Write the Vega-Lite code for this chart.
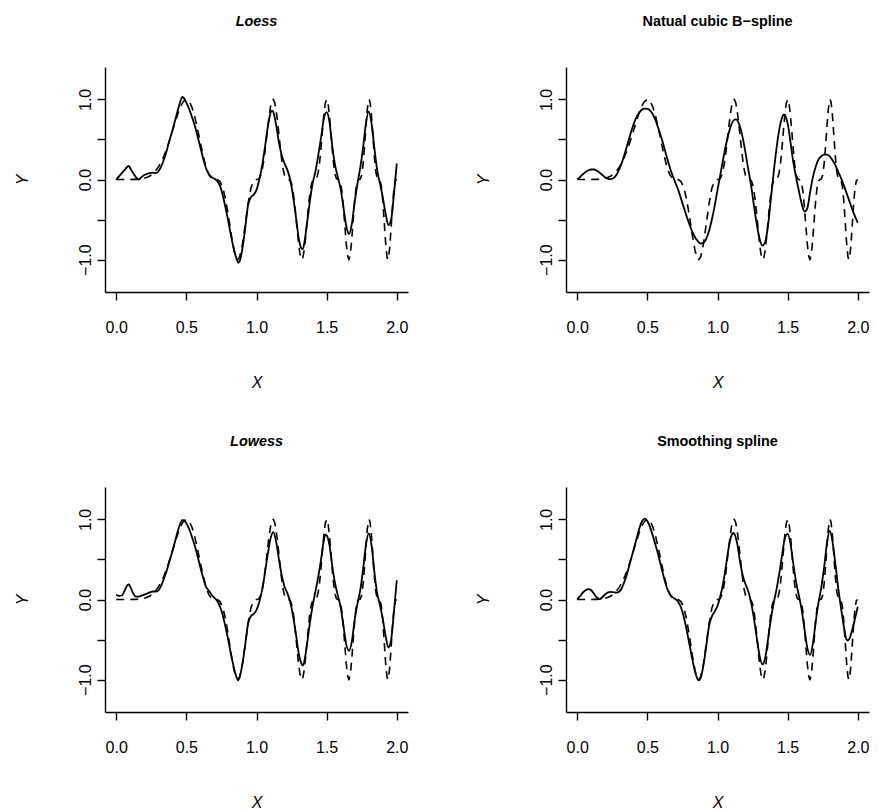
{
"$schema": "https://vega.github.io/schema/vega-lite/v6.json",
"padding": {"left": 14, "top": 13, "right": 5, "bottom": 5},
"bounds": "flush",
"columns": 2,
"spacing": {"row": 195, "column": 158},
"config": {
  "font": "Liberation Sans",
  "view": {"stroke": null},
  "axis": {"grid": false, "domainColor": "#000", "tickColor": "#000", "labelColor": "#000", "titleColor": "#000", "domainWidth": 1.4, "tickWidth": 1.4, "tickSize": 8, "labelFontSize": 16, "titleFontSize": 16, "titleFontWeight": "normal", "titleFontStyle": "italic", "labelFont": "Liberation Sans", "titleFont": "Liberation Sans"},
  "title": {"fontSize": 14.4, "fontWeight": "bold", "color": "#000", "anchor": "middle", "frame": "group", "baseline": "middle", "offset": 38, "font": "Liberation Sans"}
},
"datasets": {
"truth": [
{"x":0,"y":0},{"x":0.02,"y":0},{"x":0.04,"y":0},{"x":0.06,"y":0},{"x":0.08,"y":0},{"x":0.1,"y":0},{"x":0.12,"y":0.001},{"x":0.14,"y":0.002},{"x":0.16,"y":0.004},{"x":0.18,"y":0.008},{"x":0.2,"y":0.015},{"x":0.22,"y":0.027},{"x":0.24,"y":0.044},{"x":0.26,"y":0.07},{"x":0.28,"y":0.106},{"x":0.3,"y":0.154},{"x":0.32,"y":0.216},{"x":0.34,"y":0.293},{"x":0.36,"y":0.384},{"x":0.38,"y":0.489},{"x":0.4,"y":0.602},{"x":0.42,"y":0.717},{"x":0.44,"y":0.825},{"x":0.46,"y":0.916},{"x":0.48,"y":0.977},{"x":0.5,"y":1},{"x":0.52,"y":0.976},{"x":0.54,"y":0.901},{"x":0.56,"y":0.782},{"x":0.58,"y":0.627},{"x":0.6,"y":0.457},{"x":0.62,"y":0.293},{"x":0.64,"y":0.156},{"x":0.66,"y":0.061},{"x":0.68,"y":0.013},{"x":0.7,"y":0},{"x":0.72,"y":-0.002},{"x":0.74,"y":-0.026},{"x":0.76,"y":-0.103},{"x":0.78,"y":-0.25},{"x":0.8,"y":-0.457},{"x":0.82,"y":-0.689},{"x":0.84,"y":-0.888},{"x":0.86,"y":-0.994},{"x":0.866,"y":-1},{"x":0.88,"y":-0.965},{"x":0.9,"y":-0.804},{"x":0.92,"y":-0.556},{"x":0.94,"y":-0.298},{"x":0.96,"y":-0.106},{"x":0.98,"y":-0.015},{"x":1,"y":0},{"x":1.01,"y":0.002},{"x":1.02,"y":0.016},{"x":1.03,"y":0.052},{"x":1.04,"y":0.118},{"x":1.05,"y":0.216},{"x":1.06,"y":0.345},{"x":1.07,"y":0.493},{"x":1.08,"y":0.647},{"x":1.09,"y":0.792},{"x":1.1,"y":0.909},{"x":1.11,"y":0.981},{"x":1.118,"y":1},{"x":1.12,"y":0.999},{"x":1.13,"y":0.958},{"x":1.14,"y":0.862},{"x":1.15,"y":0.724},{"x":1.16,"y":0.562},{"x":1.17,"y":0.395},{"x":1.18,"y":0.245},{"x":1.19,"y":0.127},{"x":1.2,"y":0.05},{"x":1.21,"y":0.011},{"x":1.22,"y":0},{"x":1.23,"y":0},{"x":1.24,"y":-0.013},{"x":1.25,"y":-0.056},{"x":1.26,"y":-0.143},{"x":1.27,"y":-0.276},{"x":1.28,"y":-0.446},{"x":1.29,"y":-0.631},{"x":1.3,"y":-0.804},{"x":1.31,"y":-0.933},{"x":1.32,"y":-0.997},{"x":1.323,"y":-1},{"x":1.33,"y":-0.979},{"x":1.34,"y":-0.883},{"x":1.35,"y":-0.724},{"x":1.36,"y":-0.532},{"x":1.37,"y":-0.341},{"x":1.38,"y":-0.181},{"x":1.39,"y":-0.071},{"x":1.4,"y":-0.015},{"x":1.41,"y":0},{"x":1.42,"y":0.001},{"x":1.43,"y":0.022},{"x":1.44,"y":0.089},{"x":1.45,"y":0.216},{"x":1.46,"y":0.398},{"x":1.47,"y":0.609},{"x":1.48,"y":0.806},{"x":1.49,"y":0.949},{"x":1.5,"y":1},{"x":1.51,"y":0.948},{"x":1.52,"y":0.801},{"x":1.53,"y":0.596},{"x":1.54,"y":0.377},{"x":1.55,"y":0.19},{"x":1.56,"y":0.067},{"x":1.57,"y":0.01},{"x":1.58,"y":0},{"x":1.59,"y":-0.005},{"x":1.6,"y":-0.05},{"x":1.61,"y":-0.164},{"x":1.62,"y":-0.35},{"x":1.63,"y":-0.58},{"x":1.64,"y":-0.801},{"x":1.65,"y":-0.956},{"x":1.658,"y":-1},{"x":1.66,"y":-0.998},{"x":1.67,"y":-0.914},{"x":1.68,"y":-0.725},{"x":1.69,"y":-0.485},{"x":1.7,"y":-0.259},{"x":1.71,"y":-0.097},{"x":1.72,"y":-0.017},{"x":1.73,"y":0},{"x":1.74,"y":0.005},{"x":1.75,"y":0.056},{"x":1.76,"y":0.191},{"x":1.77,"y":0.407},{"x":1.78,"y":0.661},{"x":1.79,"y":0.881},{"x":1.8,"y":0.994},{"x":1.803,"y":1},{"x":1.81,"y":0.961},{"x":1.82,"y":0.789},{"x":1.83,"y":0.537},{"x":1.84,"y":0.285},{"x":1.85,"y":0.102},{"x":1.86,"y":0.016},{"x":1.87,"y":0},{"x":1.88,"y":-0.01},{"x":1.89,"y":-0.084},{"x":1.9,"y":-0.259},{"x":1.91,"y":-0.516},{"x":1.92,"y":-0.782},{"x":1.93,"y":-0.964},{"x":1.936,"y":-1},{"x":1.94,"y":-0.989},{"x":1.95,"y":-0.847},{"x":1.96,"y":-0.59},{"x":1.97,"y":-0.315},{"x":1.98,"y":-0.11},{"x":1.99,"y":-0.015},{"x":2,"y":0}
],
"loess": [
{"x":0,"y":0},{"x":0.02,"y":0.04},{"x":0.04,"y":0.08},{"x":0.06,"y":0.12},{"x":0.08,"y":0.16},{"x":0.09,"y":0.17},{"x":0.1,"y":0.14},{"x":0.12,"y":0.08},{"x":0.14,"y":0.03},{"x":0.16,"y":0},{"x":0.18,"y":0.03},{"x":0.2,"y":0.055},{"x":0.22,"y":0.07},{"x":0.24,"y":0.08},{"x":0.26,"y":0.085},{"x":0.28,"y":0.08},{"x":0.3,"y":0.1},{"x":0.32,"y":0.16},{"x":0.34,"y":0.25},{"x":0.36,"y":0.36},{"x":0.38,"y":0.49},{"x":0.4,"y":0.61},{"x":0.42,"y":0.74},{"x":0.44,"y":0.87},{"x":0.46,"y":0.99},{"x":0.47,"y":1.03},{"x":0.48,"y":1.02},{"x":0.5,"y":0.96},{"x":0.52,"y":0.88},{"x":0.54,"y":0.78},{"x":0.56,"y":0.67},{"x":0.58,"y":0.54},{"x":0.6,"y":0.4},{"x":0.62,"y":0.26},{"x":0.64,"y":0.14},{"x":0.66,"y":0.07},{"x":0.68,"y":0.03},{"x":0.7,"y":0.01},{"x":0.72,"y":-0.02},{"x":0.74,"y":-0.08},{"x":0.76,"y":-0.2},{"x":0.78,"y":-0.36},{"x":0.8,"y":-0.53},{"x":0.82,"y":-0.72},{"x":0.84,"y":-0.88},{"x":0.86,"y":-1.0},{"x":0.87,"y":-1.04},{"x":0.88,"y":-1.02},{"x":0.9,"y":-0.86},{"x":0.92,"y":-0.6},{"x":0.94,"y":-0.32},{"x":0.96,"y":-0.22},{"x":0.98,"y":-0.19},{"x":1,"y":-0.13},{"x":1.02,"y":0},{"x":1.04,"y":0.17},{"x":1.06,"y":0.4},{"x":1.08,"y":0.65},{"x":1.1,"y":0.83},{"x":1.11,"y":0.86},{"x":1.12,"y":0.84},{"x":1.14,"y":0.68},{"x":1.16,"y":0.46},{"x":1.18,"y":0.3},{"x":1.2,"y":0.2},{"x":1.22,"y":0.12},{"x":1.24,"y":0},{"x":1.26,"y":-0.2},{"x":1.28,"y":-0.45},{"x":1.3,"y":-0.72},{"x":1.32,"y":-0.86},{"x":1.33,"y":-0.87},{"x":1.34,"y":-0.8},{"x":1.36,"y":-0.55},{"x":1.38,"y":-0.28},{"x":1.4,"y":-0.05},{"x":1.42,"y":0.1},{"x":1.44,"y":0.3},{"x":1.46,"y":0.52},{"x":1.48,"y":0.76},{"x":1.5,"y":0.84},{"x":1.52,"y":0.72},{"x":1.54,"y":0.42},{"x":1.56,"y":0.18},{"x":1.58,"y":0.03},{"x":1.6,"y":-0.12},{"x":1.62,"y":-0.35},{"x":1.64,"y":-0.58},{"x":1.66,"y":-0.68},{"x":1.68,"y":-0.55},{"x":1.7,"y":-0.28},{"x":1.72,"y":-0.05},{"x":1.74,"y":0.15},{"x":1.76,"y":0.4},{"x":1.78,"y":0.7},{"x":1.8,"y":0.85},{"x":1.82,"y":0.7},{"x":1.84,"y":0.4},{"x":1.86,"y":0.12},{"x":1.88,"y":-0.05},{"x":1.9,"y":-0.22},{"x":1.92,"y":-0.42},{"x":1.94,"y":-0.57},{"x":1.96,"y":-0.5},{"x":1.98,"y":-0.18},{"x":2,"y":0.2}
],
"ns": [
{"x":0,"y":0},{"x":0.02,"y":0.03},{"x":0.04,"y":0.065},{"x":0.06,"y":0.095},{"x":0.08,"y":0.115},{"x":0.1,"y":0.125},{"x":0.12,"y":0.125},{"x":0.14,"y":0.11},{"x":0.16,"y":0.085},{"x":0.18,"y":0.055},{"x":0.2,"y":0.025},{"x":0.22,"y":0.008},{"x":0.24,"y":0.005},{"x":0.26,"y":0.02},{"x":0.28,"y":0.06},{"x":0.3,"y":0.13},{"x":0.32,"y":0.22},{"x":0.34,"y":0.33},{"x":0.36,"y":0.45},{"x":0.38,"y":0.57},{"x":0.4,"y":0.68},{"x":0.42,"y":0.77},{"x":0.44,"y":0.83},{"x":0.46,"y":0.87},{"x":0.48,"y":0.885},{"x":0.5,"y":0.88},{"x":0.52,"y":0.86},{"x":0.54,"y":0.81},{"x":0.56,"y":0.73},{"x":0.58,"y":0.63},{"x":0.6,"y":0.52},{"x":0.62,"y":0.4},{"x":0.64,"y":0.27},{"x":0.66,"y":0.15},{"x":0.68,"y":0.05},{"x":0.7,"y":-0.04},{"x":0.72,"y":-0.13},{"x":0.74,"y":-0.24},{"x":0.76,"y":-0.35},{"x":0.78,"y":-0.46},{"x":0.8,"y":-0.56},{"x":0.82,"y":-0.65},{"x":0.84,"y":-0.72},{"x":0.86,"y":-0.77},{"x":0.88,"y":-0.8},{"x":0.9,"y":-0.79},{"x":0.92,"y":-0.74},{"x":0.94,"y":-0.64},{"x":0.96,"y":-0.5},{"x":0.98,"y":-0.33},{"x":1,"y":-0.13},{"x":1.02,"y":0.06},{"x":1.04,"y":0.25},{"x":1.06,"y":0.43},{"x":1.08,"y":0.58},{"x":1.1,"y":0.69},{"x":1.12,"y":0.745},{"x":1.13,"y":0.75},{"x":1.14,"y":0.74},{"x":1.16,"y":0.66},{"x":1.18,"y":0.52},{"x":1.2,"y":0.33},{"x":1.22,"y":0.12},{"x":1.24,"y":-0.08},{"x":1.26,"y":-0.33},{"x":1.28,"y":-0.56},{"x":1.3,"y":-0.74},{"x":1.32,"y":-0.825},{"x":1.34,"y":-0.78},{"x":1.36,"y":-0.58},{"x":1.38,"y":-0.25},{"x":1.4,"y":0.08},{"x":1.42,"y":0.38},{"x":1.44,"y":0.62},{"x":1.46,"y":0.77},{"x":1.47,"y":0.81},{"x":1.48,"y":0.8},{"x":1.5,"y":0.7},{"x":1.52,"y":0.47},{"x":1.54,"y":0.22},{"x":1.56,"y":0.03},{"x":1.58,"y":-0.14},{"x":1.6,"y":-0.3},{"x":1.62,"y":-0.4},{"x":1.64,"y":-0.36},{"x":1.66,"y":-0.16},{"x":1.68,"y":0.03},{"x":1.7,"y":0.16},{"x":1.72,"y":0.25},{"x":1.74,"y":0.29},{"x":1.76,"y":0.31},{"x":1.78,"y":0.31},{"x":1.8,"y":0.29},{"x":1.82,"y":0.24},{"x":1.84,"y":0.18},{"x":1.86,"y":0.1},{"x":1.88,"y":0.02},{"x":1.9,"y":-0.07},{"x":1.92,"y":-0.17},{"x":1.94,"y":-0.27},{"x":1.96,"y":-0.37},{"x":1.98,"y":-0.46},{"x":2,"y":-0.54}
],
"lowess": [
{"x":0,"y":0.06},{"x":0.02,"y":0.045},{"x":0.04,"y":0.05},{"x":0.06,"y":0.11},{"x":0.08,"y":0.18},{"x":0.09,"y":0.19},{"x":0.1,"y":0.16},{"x":0.12,"y":0.08},{"x":0.14,"y":0.035},{"x":0.16,"y":0.035},{"x":0.18,"y":0.05},{"x":0.2,"y":0.06},{"x":0.22,"y":0.075},{"x":0.24,"y":0.09},{"x":0.26,"y":0.1},{"x":0.28,"y":0.1},{"x":0.3,"y":0.11},{"x":0.32,"y":0.17},{"x":0.34,"y":0.26},{"x":0.36,"y":0.36},{"x":0.38,"y":0.48},{"x":0.4,"y":0.6},{"x":0.42,"y":0.73},{"x":0.44,"y":0.86},{"x":0.46,"y":0.96},{"x":0.47,"y":0.99},{"x":0.48,"y":0.99},{"x":0.5,"y":0.95},{"x":0.52,"y":0.88},{"x":0.54,"y":0.78},{"x":0.56,"y":0.67},{"x":0.58,"y":0.54},{"x":0.6,"y":0.4},{"x":0.62,"y":0.27},{"x":0.64,"y":0.16},{"x":0.66,"y":0.11},{"x":0.68,"y":0.06},{"x":0.7,"y":0.02},{"x":0.72,"y":-0.02},{"x":0.74,"y":-0.09},{"x":0.76,"y":-0.2},{"x":0.78,"y":-0.35},{"x":0.8,"y":-0.52},{"x":0.82,"y":-0.7},{"x":0.84,"y":-0.86},{"x":0.86,"y":-0.98},{"x":0.87,"y":-1.01},{"x":0.88,"y":-0.97},{"x":0.9,"y":-0.8},{"x":0.92,"y":-0.56},{"x":0.94,"y":-0.3},{"x":0.96,"y":-0.21},{"x":0.98,"y":-0.18},{"x":1,"y":-0.13},{"x":1.02,"y":-0.03},{"x":1.04,"y":0.12},{"x":1.06,"y":0.33},{"x":1.08,"y":0.56},{"x":1.1,"y":0.76},{"x":1.12,"y":0.84},{"x":1.14,"y":0.72},{"x":1.16,"y":0.5},{"x":1.18,"y":0.3},{"x":1.2,"y":0.16},{"x":1.22,"y":0.08},{"x":1.24,"y":-0.03},{"x":1.26,"y":-0.2},{"x":1.28,"y":-0.42},{"x":1.3,"y":-0.66},{"x":1.32,"y":-0.8},{"x":1.33,"y":-0.825},{"x":1.34,"y":-0.78},{"x":1.36,"y":-0.56},{"x":1.38,"y":-0.3},{"x":1.4,"y":-0.08},{"x":1.42,"y":0.1},{"x":1.44,"y":0.28},{"x":1.46,"y":0.5},{"x":1.48,"y":0.74},{"x":1.49,"y":0.81},{"x":1.5,"y":0.8},{"x":1.52,"y":0.68},{"x":1.54,"y":0.42},{"x":1.56,"y":0.2},{"x":1.58,"y":0.05},{"x":1.6,"y":-0.1},{"x":1.62,"y":-0.33},{"x":1.64,"y":-0.56},{"x":1.66,"y":-0.64},{"x":1.68,"y":-0.52},{"x":1.7,"y":-0.25},{"x":1.72,"y":-0.05},{"x":1.74,"y":0.12},{"x":1.76,"y":0.38},{"x":1.78,"y":0.68},{"x":1.8,"y":0.825},{"x":1.82,"y":0.68},{"x":1.84,"y":0.35},{"x":1.86,"y":0.08},{"x":1.88,"y":-0.07},{"x":1.9,"y":-0.24},{"x":1.92,"y":-0.45},{"x":1.94,"y":-0.6},{"x":1.96,"y":-0.5},{"x":1.98,"y":-0.15},{"x":2,"y":0.24}
],
"ss": [
{"x":0,"y":0},{"x":0.02,"y":0.04},{"x":0.04,"y":0.085},{"x":0.06,"y":0.115},{"x":0.08,"y":0.13},{"x":0.1,"y":0.115},{"x":0.12,"y":0.07},{"x":0.14,"y":0.025},{"x":0.16,"y":0.005},{"x":0.18,"y":0.03},{"x":0.2,"y":0.065},{"x":0.22,"y":0.09},{"x":0.24,"y":0.095},{"x":0.26,"y":0.09},{"x":0.28,"y":0.085},{"x":0.3,"y":0.1},{"x":0.32,"y":0.15},{"x":0.34,"y":0.24},{"x":0.36,"y":0.35},{"x":0.38,"y":0.48},{"x":0.4,"y":0.61},{"x":0.42,"y":0.74},{"x":0.44,"y":0.87},{"x":0.46,"y":0.97},{"x":0.48,"y":1.01},{"x":0.5,"y":0.98},{"x":0.52,"y":0.9},{"x":0.54,"y":0.79},{"x":0.56,"y":0.67},{"x":0.58,"y":0.54},{"x":0.6,"y":0.4},{"x":0.62,"y":0.26},{"x":0.64,"y":0.14},{"x":0.66,"y":0.07},{"x":0.68,"y":0.03},{"x":0.7,"y":0.005},{"x":0.72,"y":-0.03},{"x":0.74,"y":-0.1},{"x":0.76,"y":-0.22},{"x":0.78,"y":-0.38},{"x":0.8,"y":-0.56},{"x":0.82,"y":-0.74},{"x":0.84,"y":-0.9},{"x":0.86,"y":-1.0},{"x":0.87,"y":-1.01},{"x":0.88,"y":-0.98},{"x":0.9,"y":-0.82},{"x":0.92,"y":-0.58},{"x":0.94,"y":-0.33},{"x":0.96,"y":-0.21},{"x":0.98,"y":-0.15},{"x":1,"y":-0.08},{"x":1.02,"y":0.04},{"x":1.04,"y":0.2},{"x":1.06,"y":0.42},{"x":1.08,"y":0.65},{"x":1.1,"y":0.8},{"x":1.11,"y":0.83},{"x":1.12,"y":0.82},{"x":1.14,"y":0.7},{"x":1.16,"y":0.48},{"x":1.18,"y":0.3},{"x":1.2,"y":0.19},{"x":1.22,"y":0.1},{"x":1.24,"y":-0.04},{"x":1.26,"y":-0.24},{"x":1.28,"y":-0.48},{"x":1.3,"y":-0.7},{"x":1.32,"y":-0.81},{"x":1.34,"y":-0.73},{"x":1.36,"y":-0.5},{"x":1.38,"y":-0.25},{"x":1.4,"y":-0.05},{"x":1.42,"y":0.12},{"x":1.44,"y":0.32},{"x":1.46,"y":0.55},{"x":1.48,"y":0.76},{"x":1.5,"y":0.82},{"x":1.52,"y":0.7},{"x":1.54,"y":0.45},{"x":1.56,"y":0.22},{"x":1.58,"y":0.05},{"x":1.6,"y":-0.13},{"x":1.62,"y":-0.37},{"x":1.64,"y":-0.6},{"x":1.66,"y":-0.69},{"x":1.68,"y":-0.55},{"x":1.7,"y":-0.28},{"x":1.72,"y":-0.04},{"x":1.74,"y":0.15},{"x":1.76,"y":0.4},{"x":1.78,"y":0.7},{"x":1.8,"y":0.86},{"x":1.82,"y":0.72},{"x":1.84,"y":0.45},{"x":1.86,"y":0.15},{"x":1.88,"y":-0.1},{"x":1.9,"y":-0.33},{"x":1.92,"y":-0.5},{"x":1.93,"y":-0.51},{"x":1.94,"y":-0.49},{"x":1.96,"y":-0.38},{"x":1.98,"y":-0.24},{"x":2,"y":-0.09}
]
},
"concat": [
{"title": {"text": "Loess", "fontStyle": "italic"}, "width": 303, "height": 225,
 "layer": [
  {"data": {"name": "truth"}, "mark": {"type": "line", "color": "#000", "strokeWidth": 1.6, "strokeDash": [8, 6]},
   "encoding": {
    "x": {"field": "x", "type": "quantitative", "scale": {"domain": [-0.08, 2.08], "nice": false, "zero": false}, "axis": {"values": [0, 0.5, 1, 1.5, 2], "format": ".1f", "labelBaseline": "middle", "labelPadding": 27, "title": "X", "titleY": 90.5, "titleBaseline": "middle"}},
    "y": {"field": "y", "type": "quantitative", "scale": {"domain": [-1.404, 1.404], "nice": false, "zero": false}, "axis": {"values": [-1, -0.5, 0, 0.5, 1], "format": ".1f", "labelExpr": "abs(datum.value) == 0.5 ? '' : datum.label", "labelAngle": -90, "labelAlign": "center", "labelBaseline": "middle", "labelPadding": 11.5, "title": "Y", "titleAngle": -90, "titleX": -82.5, "titleY": 112.5, "titleAlign": "center", "titleBaseline": "middle"}}
   }},
  {"data": {"name": "loess"}, "mark": {"type": "line", "color": "#000", "strokeWidth": 1.8, "interpolate": "monotone"},
   "encoding": {"x": {"field": "x", "type": "quantitative"}, "y": {"field": "y", "type": "quantitative"}}}
 ]},
{"title": {"text": "Natual cubic B−spline", "fontStyle": "normal"}, "width": 303, "height": 225,
 "layer": [
  {"data": {"name": "truth"}, "mark": {"type": "line", "color": "#000", "strokeWidth": 1.6, "strokeDash": [8, 6]},
   "encoding": {
    "x": {"field": "x", "type": "quantitative", "scale": {"domain": [-0.08, 2.08], "nice": false, "zero": false}, "axis": {"values": [0, 0.5, 1, 1.5, 2], "format": ".1f", "labelBaseline": "middle", "labelPadding": 27, "title": "X", "titleY": 90.5, "titleBaseline": "middle"}},
    "y": {"field": "y", "type": "quantitative", "scale": {"domain": [-1.404, 1.404], "nice": false, "zero": false}, "axis": {"values": [-1, -0.5, 0, 0.5, 1], "format": ".1f", "labelExpr": "abs(datum.value) == 0.5 ? '' : datum.label", "labelAngle": -90, "labelAlign": "center", "labelBaseline": "middle", "labelPadding": 11.5, "title": "Y", "titleAngle": -90, "titleX": -82.5, "titleY": 112.5, "titleAlign": "center", "titleBaseline": "middle"}}
   }},
  {"data": {"name": "ns"}, "mark": {"type": "line", "color": "#000", "strokeWidth": 1.8, "interpolate": "monotone"},
   "encoding": {"x": {"field": "x", "type": "quantitative"}, "y": {"field": "y", "type": "quantitative"}}}
 ]},
{"title": {"text": "Lowess", "fontStyle": "italic"}, "width": 303, "height": 225,
 "layer": [
  {"data": {"name": "truth"}, "mark": {"type": "line", "color": "#000", "strokeWidth": 1.6, "strokeDash": [8, 6]},
   "encoding": {
    "x": {"field": "x", "type": "quantitative", "scale": {"domain": [-0.08, 2.08], "nice": false, "zero": false}, "axis": {"values": [0, 0.5, 1, 1.5, 2], "format": ".1f", "labelBaseline": "middle", "labelPadding": 27, "title": "X", "titleY": 90.5, "titleBaseline": "middle"}},
    "y": {"field": "y", "type": "quantitative", "scale": {"domain": [-1.404, 1.404], "nice": false, "zero": false}, "axis": {"values": [-1, -0.5, 0, 0.5, 1], "format": ".1f", "labelExpr": "abs(datum.value) == 0.5 ? '' : datum.label", "labelAngle": -90, "labelAlign": "center", "labelBaseline": "middle", "labelPadding": 11.5, "title": "Y", "titleAngle": -90, "titleX": -82.5, "titleY": 112.5, "titleAlign": "center", "titleBaseline": "middle"}}
   }},
  {"data": {"name": "lowess"}, "mark": {"type": "line", "color": "#000", "strokeWidth": 1.8, "interpolate": "monotone"},
   "encoding": {"x": {"field": "x", "type": "quantitative"}, "y": {"field": "y", "type": "quantitative"}}}
 ]},
{"title": {"text": "Smoothing spline", "fontStyle": "normal"}, "width": 303, "height": 225,
 "layer": [
  {"data": {"name": "truth"}, "mark": {"type": "line", "color": "#000", "strokeWidth": 1.6, "strokeDash": [8, 6]},
   "encoding": {
    "x": {"field": "x", "type": "quantitative", "scale": {"domain": [-0.08, 2.08], "nice": false, "zero": false}, "axis": {"values": [0, 0.5, 1, 1.5, 2], "format": ".1f", "labelBaseline": "middle", "labelPadding": 27, "title": "X", "titleY": 90.5, "titleBaseline": "middle"}},
    "y": {"field": "y", "type": "quantitative", "scale": {"domain": [-1.404, 1.404], "nice": false, "zero": false}, "axis": {"values": [-1, -0.5, 0, 0.5, 1], "format": ".1f", "labelExpr": "abs(datum.value) == 0.5 ? '' : datum.label", "labelAngle": -90, "labelAlign": "center", "labelBaseline": "middle", "labelPadding": 11.5, "title": "Y", "titleAngle": -90, "titleX": -82.5, "titleY": 112.5, "titleAlign": "center", "titleBaseline": "middle"}}
   }},
  {"data": {"name": "ss"}, "mark": {"type": "line", "color": "#000", "strokeWidth": 1.8, "interpolate": "monotone"},
   "encoding": {"x": {"field": "x", "type": "quantitative"}, "y": {"field": "y", "type": "quantitative"}}}
 ]}
]
}
